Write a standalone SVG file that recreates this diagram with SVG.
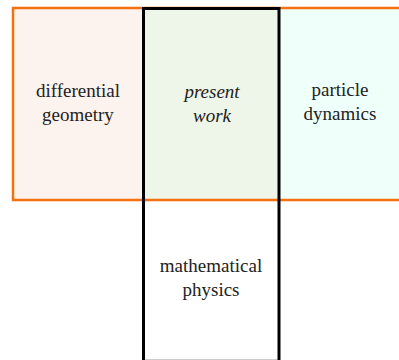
<svg xmlns="http://www.w3.org/2000/svg" width="399" height="360" viewBox="0 0 399 360">
  <defs>
    <style>
      .orange { fill: none; stroke: #f5700f; stroke-width: 2.5; }
      .black { fill: none; stroke: #000; stroke-width: 3; }
    </style>
  </defs>
  <rect x="0" y="0" width="399" height="360" fill="#fff"/>
  <g id="differential-geometry">
    <rect x="13" y="8" width="130" height="192" fill="#fdf3ee"/>
    <text font-family="Liberation Serif" font-size="19" fill="#222" text-anchor="middle" x="78" y="97">differential</text>
    <text font-family="Liberation Serif" font-size="19" fill="#222" text-anchor="middle" x="78" y="121">geometry</text>
  </g>
  <g id="present-work">
    <rect x="143" y="8" width="136" height="192" fill="#eef5e9"/>
    <text font-family="Liberation Serif" font-size="19" font-style="italic" fill="#222" text-anchor="middle" x="212" y="98">present</text>
    <text font-family="Liberation Serif" font-size="19" font-style="italic" fill="#222" text-anchor="middle" x="212" y="122">work</text>
  </g>
  <g id="particle-dynamics">
    <rect x="279" y="8" width="130" height="192" fill="#effff9"/>
    <text font-family="Liberation Serif" font-size="19" fill="#222" text-anchor="middle" x="340" y="96">particle</text>
    <text font-family="Liberation Serif" font-size="19" fill="#222" text-anchor="middle" x="340" y="120">dynamics</text>
  </g>
  <g id="mathematical-physics">
    <rect x="143" y="200" width="136" height="162" fill="#fff"/>
    <text font-family="Liberation Serif" font-size="19" fill="#222" text-anchor="middle" x="211" y="272">mathematical</text>
    <text font-family="Liberation Serif" font-size="19" fill="#222" text-anchor="middle" x="211" y="296">physics</text>
  </g>
  <g id="frames">
    <rect class="orange" x="13" y="8" width="400" height="192"/>
    <line x1="143" y1="359.5" x2="279" y2="359.5" stroke="#ccc" stroke-width="1"/>
    <rect class="black" x="143.5" y="8.5" width="135.5" height="360"/>
  </g>
</svg>
